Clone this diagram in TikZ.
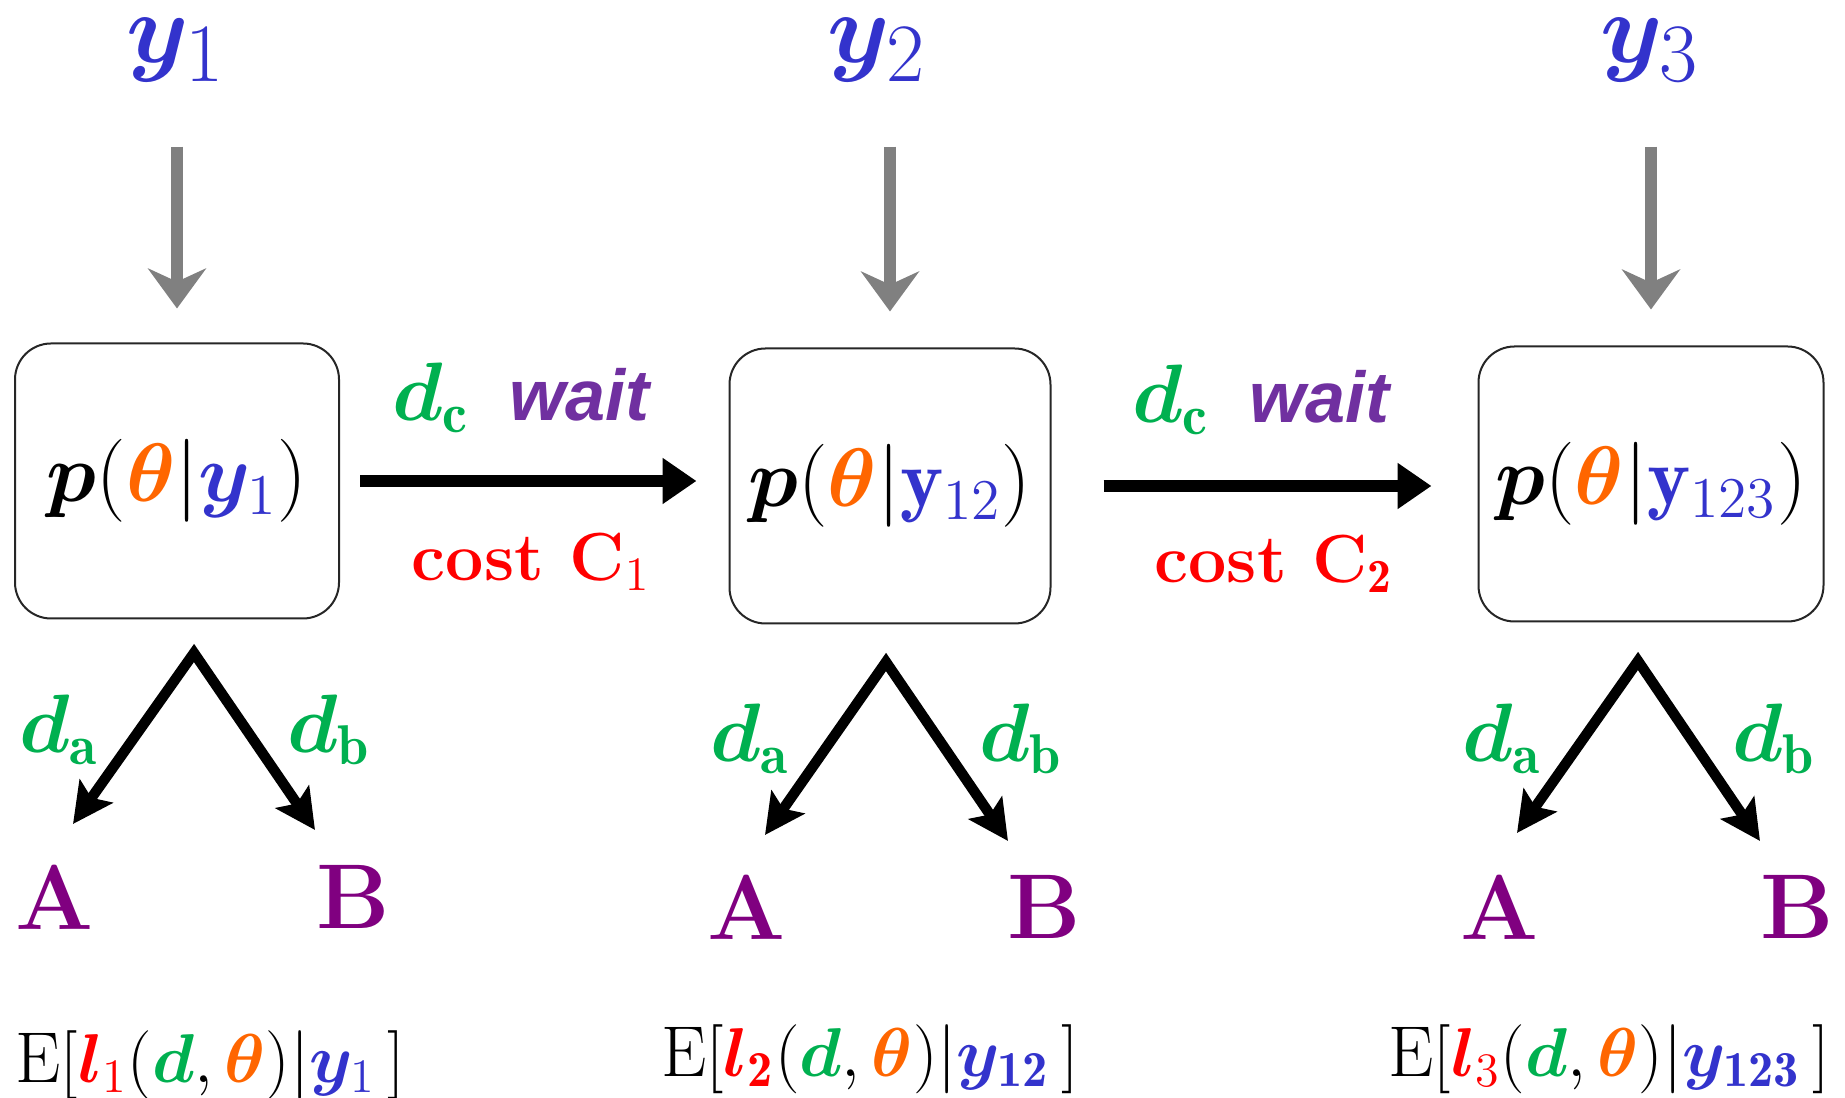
\documentclass[tikz,border=0pt]{standalone}
\usepackage{fontspec}
\usepackage{bm}
\usetikzlibrary{arrows.meta}
\newfontfamily\waitfont{Liberation Sans}
\definecolor{yblue}{HTML}{3333CC}
\definecolor{thetaorange}{HTML}{FF6600}
\definecolor{dgreen}{HTML}{00B050}
\definecolor{waitpurple}{HTML}{7030A0}
\definecolor{costred}{HTML}{FF0000}
\definecolor{abpurple}{HTML}{800080}
\definecolor{feedgray}{HTML}{808080}
\newcommand{\dcwait}{{\fontsize{20}{22}\selectfont$\textcolor{dgreen}{\bm{d}_{\mathbf{c}}}$}%
  \hspace{10pt}\textcolor{waitpurple}{\waitfont\bfseries\itshape wait}}

\tikzset{
  obs/.style={text=yblue, inner sep=0pt, font=\fontsize{32}{34}\selectfont},
  postbox/.style={draw=black!85, line width=0.5pt, rounded corners=9pt,
    minimum height=68.75pt, font=\fontsize{20.5}{24}\selectfont},
  feed/.style={draw=feedgray, line width=3pt,
    -{Stealth[length=10pt,width=14.5pt,inset=3.3pt]}},
  move/.style={line width=3.2pt, -{Triangle[length=8.5pt,width=11pt]}},
  choice/.style={line width=2.6pt, line join=miter,
    {Stealth[length=10pt,width=10pt,inset=2pt]}-{Stealth[length=10pt,width=10pt,inset=2pt]}},
  dlabel/.style={text=dgreen, font=\fontsize{20}{22}\selectfont},
  outcome/.style={text=abpurple, font=\fontsize{23}{26}\selectfont\bfseries},
  loss/.style={font=\fontsize{18}{22}\selectfont},
  waitlabel/.style={font=\fontsize{18}{22}\selectfont},
  costlabel/.style={text=costred, font=\fontsize{17}{20}\selectfont\bfseries},
}

\begin{document}
\begin{tikzpicture}[x=0.25pt, y=-0.25pt]
  \useasboundingbox (0,0) rectangle (1845,1098);

  % observations
  \node[obs] (y1) at (176,50) {$\bm{y}_1$};
  \node[obs] (y2) at (877,50) {$\bm{y}_2$};
  \node[obs] (y3) at (1650,50) {$\bm{y}_3$};

  % posteriors
  \node[postbox, minimum width=81pt] (post1) at (177,481)
    {$\bm{p}(\textcolor{thetaorange}{\bm{\theta}}|\textcolor{yblue}{\bm{y}_1})$};
  \node[postbox, minimum width=80.25pt] (post2) at (890,486)
    {$\bm{p}(\textcolor{thetaorange}{\bm{\theta}}|\textcolor{yblue}{\mathbf{y}_{12}})$};
  \node[postbox, minimum width=86.25pt] (post3) at (1651,484)
    {$\bm{p}(\textcolor{thetaorange}{\bm{\theta}}|\textcolor{yblue}{\mathbf{y}_{123}})$};

  \draw[feed, shorten <=16pt, shorten >=8.5pt] (post1.north |- y1.south) -- (post1.north);
  \draw[feed, shorten <=16pt, shorten >=9pt] (post2.north |- y2.south) -- (post2.north);
  \draw[feed, shorten <=16pt, shorten >=9pt] (post3.north |- y3.south) -- (post3.north);

  % waiting steps
  \draw[move, shorten <=5pt, shorten >=8pt] (post1.east) -- (post1.east -| post2.west);
  \draw[move, shorten <=13pt, shorten >=11.5pt] (post2.east) -- (post2.east -| post3.west);
  \node[waitlabel] (wait1) at (521,398) {\dcwait};
  \node[waitlabel] (wait2) at (1261,400) {\dcwait};
  \node[costlabel] (cost1) at (531,562) {cost C$_1$};
  \node[costlabel] (cost2) at (1274,564) {cost C$_{\mathbf{2}}$};

  % decisions
  \coordinate (fork1) at (194,653);
  \coordinate (tipA1) at (73,824);
  \coordinate (tipB1) at (315,830);
  \draw[choice] (tipA1) -- (fork1) -- (tipB1);
  \node[dlabel] (da1) at (59,730) {$\bm{d}_{\mathbf{a}}$};
  \node[dlabel] (db1) at (329,730) {$\bm{d}_{\mathbf{b}}$};
  \node[outcome] (A1) at (55,897) {A};
  \node[outcome] (B1) at (353,897) {B};

  \coordinate (fork2) at (886,662);
  \coordinate (tipA2) at (765,835);
  \coordinate (tipB2) at (1008,841);
  \draw[choice] (tipA2) -- (fork2) -- (tipB2);
  \node[dlabel] (da2) at (750,739) {$\bm{d}_{\mathbf{a}}$};
  \node[dlabel] (db2) at (1021,739) {$\bm{d}_{\mathbf{b}}$};
  \node[outcome] (A2) at (747,907) {A};
  \node[outcome] (B2) at (1044,907) {B};

  \coordinate (fork3) at (1638,661);
  \coordinate (tipA3) at (1517,833);
  \coordinate (tipB3) at (1760,841);
  \draw[choice] (tipA3) -- (fork3) -- (tipB3);
  \node[dlabel] (da3) at (1502,739) {$\bm{d}_{\mathbf{a}}$};
  \node[dlabel] (db3) at (1774,739) {$\bm{d}_{\mathbf{b}}$};
  \node[outcome] (A3) at (1500,907) {A};
  \node[outcome] (B3) at (1797,907) {B};

  % expected losses
  \node[loss] (loss1) at (210,1065)
    {$\mathrm{E}[\textcolor{costred}{\bm{l}_1}(\textcolor{dgreen}{\bm{d}},\textcolor{thetaorange}{\bm{\theta}})|\textcolor{yblue}{\bm{y}_1}\,]$};
  \node[loss] (loss2) at (870,1059)
    {$\mathrm{E}[\textcolor{costred}{\bm{l}_{\mathbf{2}}}(\textcolor{dgreen}{\bm{d}},\textcolor{thetaorange}{\bm{\theta}})|\textcolor{yblue}{\bm{y}_{\mathbf{12}}}\,]$};
  \node[loss] (loss3) at (1609,1059)
    {$\mathrm{E}[\textcolor{costred}{\bm{l}_3}(\textcolor{dgreen}{\bm{d}},\textcolor{thetaorange}{\bm{\theta}})|\textcolor{yblue}{\bm{y}_{\mathbf{123}}}\,]$};
\end{tikzpicture}
\end{document}
